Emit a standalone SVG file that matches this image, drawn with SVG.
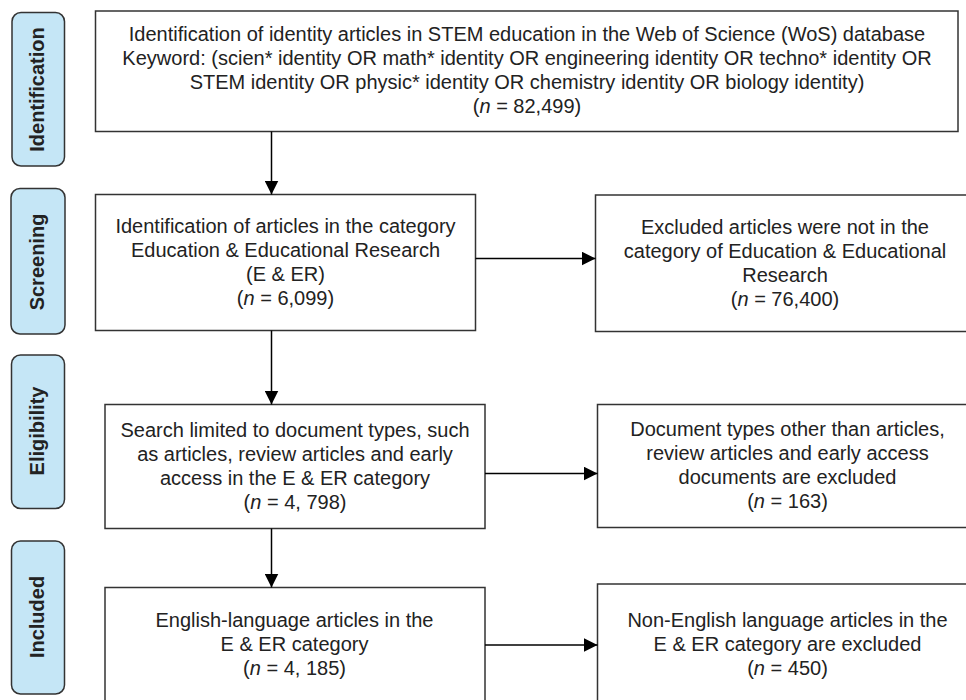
<svg xmlns="http://www.w3.org/2000/svg" width="966" height="700" viewBox="0 0 966 700">
<defs>
<style>
.stage rect{fill:#c5e6f6;stroke:#333;stroke-width:1.5}
.stage text{font-family:"Liberation Sans",Arial,sans-serif;font-size:20px;font-weight:bold;fill:#222;text-anchor:middle}
.box rect{fill:#fff;stroke:#333;stroke-width:1.5}
.box text{font-family:"Liberation Sans",Arial,sans-serif;font-size:20px;fill:#222;text-anchor:middle}
.it{font-style:italic}
.conn line{stroke:#000;stroke-width:1.5;fill:none}
</style>
<marker id="ah" viewBox="0 0 14 14" refX="14" refY="7" markerWidth="14" markerHeight="14" markerUnits="userSpaceOnUse" orient="auto">
<path d="M0,0 L14,7 L0,14 Z" fill="#000"/>
</marker>
</defs>
<rect width="966" height="700" fill="#fff"/>

<g id="stage-identification" class="stage">
<rect x="12" y="12.5" width="52.5" height="153.5" rx="9"/>
<text transform="translate(37,89.5) rotate(-90)" y="7">Identification</text>
</g>
<g id="stage-screening" class="stage">
<rect x="11" y="188.5" width="54" height="145.5" rx="9"/>
<text transform="translate(37,262) rotate(-90)" y="7">Screening</text>
</g>
<g id="stage-eligibility" class="stage">
<rect x="11.5" y="355" width="53" height="153.5" rx="9"/>
<text transform="translate(37,431) rotate(-90)" y="7">Eligibility</text>
</g>
<g id="stage-included" class="stage">
<rect x="11.5" y="541" width="53" height="153" rx="9"/>
<text transform="translate(37,617) rotate(-90)" y="7">Included</text>
</g>

<g id="box-identification" class="box">
<rect x="95.5" y="11" width="862.5" height="120.5"/>
<text x="527" y="41">Identification of identity articles in STEM education in the Web of Science (WoS) database</text>
<text x="527" y="65">Keyword: (scien* identity OR math* identity OR engineering identity OR techno* identity OR</text>
<text x="527" y="89">STEM identity OR physic* identity OR chemistry identity OR biology identity)</text>
<text x="527" y="113">(<tspan class="it">n</tspan> = 82,499)</text>
</g>

<g id="box-screening" class="box">
<rect x="95.5" y="194.5" width="380" height="136"/>
<text x="285.5" y="233">Identification of articles in the category</text>
<text x="285.5" y="257">Education &amp; Educational Research</text>
<text x="285.5" y="281">(E &amp; ER)</text>
<text x="285.5" y="305">(<tspan class="it">n</tspan> = 6,099)</text>
</g>

<g id="box-screening-excluded" class="box">
<rect x="595.5" y="195" width="382" height="136.5"/>
<text x="785" y="234">Excluded articles were not in the</text>
<text x="785" y="258">category of Education &amp; Educational</text>
<text x="785" y="282">Research</text>
<text x="785" y="306">(<tspan class="it">n</tspan> = 76,400)</text>
</g>

<g id="box-eligibility" class="box">
<rect x="105" y="404.5" width="380" height="124"/>
<text x="295" y="436.5">Search limited to document types, such</text>
<text x="295" y="460.5">as articles, review articles and early</text>
<text x="295" y="484.5">access in the E &amp; ER category</text>
<text x="295" y="508.5">(<tspan class="it">n</tspan> = 4, 798)</text>
</g>

<g id="box-eligibility-excluded" class="box">
<rect x="597.5" y="404.5" width="381" height="123"/>
<text x="787.5" y="435.5">Document types other than articles,</text>
<text x="787.5" y="459.5">review articles and early access</text>
<text x="787.5" y="483.5">documents are excluded</text>
<text x="787.5" y="508">(<tspan class="it">n</tspan> = 163)</text>
</g>

<g id="box-included" class="box">
<rect x="105" y="587.5" width="380" height="120"/>
<text x="294.5" y="627">English-language articles in the</text>
<text x="294.5" y="651">E &amp; ER category</text>
<text x="294.5" y="675">(<tspan class="it">n</tspan> = 4, 185)</text>
</g>

<g id="box-included-excluded" class="box">
<rect x="597.5" y="584" width="381" height="124"/>
<text x="787.5" y="627">Non-English language articles in the</text>
<text x="787.5" y="651">E &amp; ER category are excluded</text>
<text x="787.5" y="675">(<tspan class="it">n</tspan> = 450)</text>
</g>

<g id="connectors" class="conn">
<line x1="271.5" y1="131.5" x2="271.5" y2="194.5" marker-end="url(#ah)"/>
<line x1="271.5" y1="330.5" x2="271.5" y2="404.5" marker-end="url(#ah)"/>
<line x1="271.5" y1="528.5" x2="271.5" y2="587.5" marker-end="url(#ah)"/>
<line x1="475.5" y1="258.5" x2="595.5" y2="258.5" marker-end="url(#ah)"/>
<line x1="485" y1="473.5" x2="597.5" y2="473.5" marker-end="url(#ah)"/>
<line x1="485" y1="645" x2="597.5" y2="645" marker-end="url(#ah)"/>
</g>
</svg>
